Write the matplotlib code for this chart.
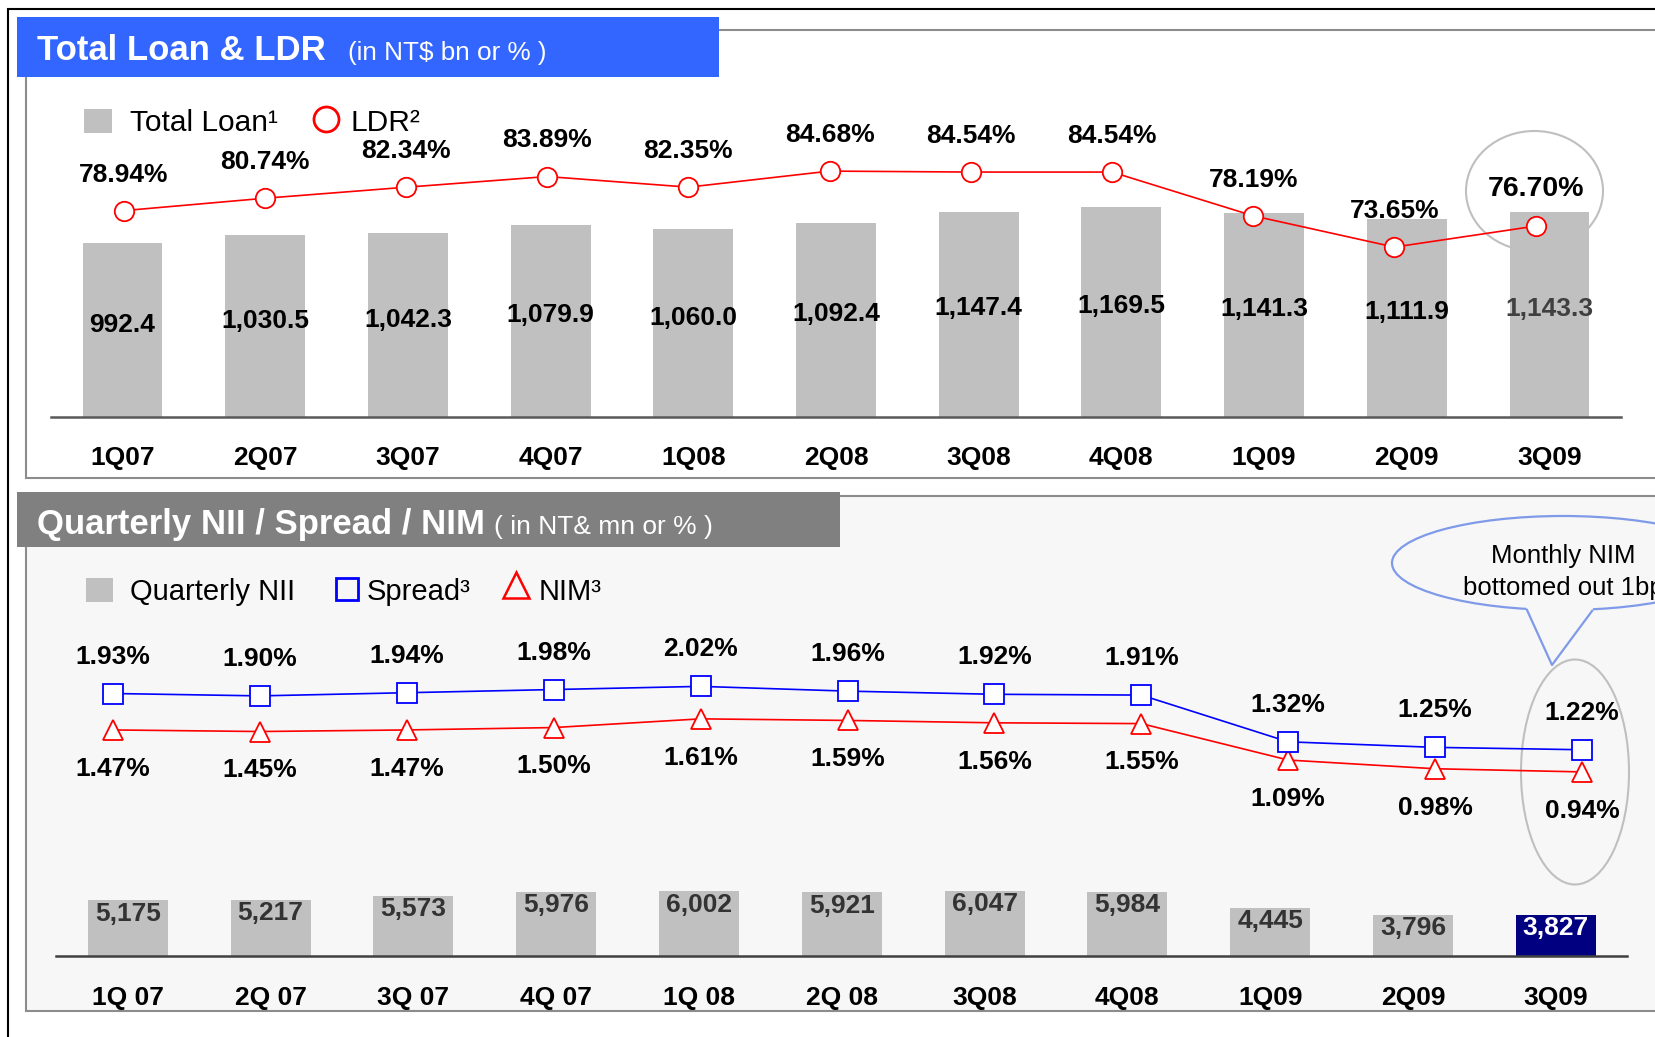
import matplotlib
matplotlib.use('Agg')
import matplotlib.pyplot as plt
from matplotlib.patches import Rectangle, Ellipse, Polygon

plt.rcParams['font.family'] = ['Liberation Sans', 'DejaVu Sans']

W, H, DPI = 1656, 1037, 100

# ---------------- data ----------------
top_categories = ['1Q07', '2Q07', '3Q07', '4Q07', '1Q08', '2Q08', '3Q08', '4Q08', '1Q09', '2Q09', '3Q09']
total_loan = [992.4, 1030.5, 1042.3, 1079.9, 1060.0, 1092.4, 1147.4, 1169.5, 1141.3, 1111.9, 1143.3]
ldr = [78.94, 80.74, 82.34, 83.89, 82.35, 84.68, 84.54, 84.54, 78.19, 73.65, 76.70]

bottom_categories = ['1Q 07', '2Q 07', '3Q 07', '4Q 07', '1Q 08', '2Q 08', '3Q08', '4Q08', '1Q09', '2Q09', '3Q09']
quarterly_nii = [5175, 5217, 5573, 5976, 6002, 5921, 6047, 5984, 4445, 3796, 3827]
spread = [1.93, 1.90, 1.94, 1.98, 2.02, 1.96, 1.92, 1.91, 1.32, 1.25, 1.22]
nim = [1.47, 1.45, 1.47, 1.50, 1.61, 1.59, 1.56, 1.55, 1.09, 0.98, 0.94]

# ---------------- style ----------------
BAR_GRAY = '#c0c0c0'
NAVY = '#000080'
PANEL_BG = '#f7f7f7'
FRAME = '#8c8c8c'
BLUE_HDR = '#3366ff'
GRAY_HDR = '#808080'
BUBBLE = '#7f9ae8'
VAL_FS = 19

fig = plt.figure(figsize=(W / DPI, H / DPI), dpi=DPI)
fig.patch.set_facecolor('white')

# background / decoration layer in pixel coordinates
bg = fig.add_axes([0, 0, 1, 1], zorder=0)
bg.set_xlim(0, W)
bg.set_ylim(H, 0)
bg.axis('off')

# outer black frame
bg.plot([8.5, 8.5, W + 5], [H + 5, 8.5, 8.5], color='black', lw=1.5, solid_joinstyle='miter')

# top panel
bg.add_patch(Rectangle((26, 30), 1700, 448, fc='white', ec=FRAME, lw=1.5))
# bottom panel
bg.add_patch(Rectangle((26, 496), 1700, 515, fc=PANEL_BG, ec=FRAME, lw=1.5))

# headers
bg.add_patch(Rectangle((17, 17), 702, 60, fc=BLUE_HDR, ec='none'))
bg.text(37, 60, 'Total Loan & LDR', color='white', fontsize=25, fontweight='bold', va='baseline', ha='left')
bg.text(348, 60, '(in NT$ bn or % )', color='white', fontsize=18.8, va='baseline', ha='left')

bg.add_patch(Rectangle((17, 492), 823, 55, fc=GRAY_HDR, ec='none'))
bg.text(37, 534, 'Quarterly NII / Spread / NIM', color='white', fontsize=25, fontweight='bold',
        va='baseline', ha='left')
bg.text(494, 534, '( in NT& mn or % )', color='white', fontsize=19, va='baseline', ha='left')

# legends
bg.add_patch(Rectangle((84.5, 109), 27.5, 24, fc=BAR_GRAY, ec='none'))
bg.text(130, 131, 'Total Loan¹', fontsize=21.5, va='baseline', ha='left')
bg.plot([326], [119], marker='o', ms=18, mfc='white', mec='red', mew=2, ls='none')
bg.text(350.5, 131, 'LDR²', fontsize=21.5, va='baseline', ha='left')

bg.add_patch(Rectangle((86.5, 578), 26.5, 24, fc=BAR_GRAY, ec='none'))
bg.text(130, 600, 'Quarterly NII', fontsize=21, va='baseline', ha='left')
bg.plot([347.5], [589], marker='s', ms=16, mfc='none', mec='blue', mew=2, ls='none')
bg.text(366.5, 600, 'Spread³', fontsize=21, va='baseline', ha='left')
bg.plot([516], [585], marker='^', ms=19, mfc='none', mec='red', mew=1.8, ls='none')
bg.text(538.5, 600, 'NIM³', fontsize=21, va='baseline', ha='left')

# highlight ellipses
bg.add_patch(Ellipse((1534.5, 191), 137, 120, fc='none', ec='#bfbfbf', lw=1.5))
bg.add_patch(Ellipse((1575, 772), 108, 225, fc='none', ec='#bfbfbf', lw=1.5))

# speech bubble
bg.add_patch(Ellipse((1563, 563), 342, 94, fc=PANEL_BG, ec=BUBBLE, lw=1.6, zorder=3))
bg.add_patch(Polygon([(1524, 600), (1527, 610), (1552, 665), (1592, 611), (1596, 600)],
                     closed=True, fc=PANEL_BG, ec='none', zorder=4))
bg.plot([1527, 1552, 1592], [610, 665, 611], color=BUBBLE, lw=1.6, zorder=5)
bg.text(1563, 556, 'Monthly NIM', fontsize=18.5, ha='center', va='center', zorder=6)
bg.text(1563, 588, 'bottomed out 1bp', fontsize=18.5, ha='center', va='center', zorder=6)


def px_axes(x0, s, top, bottom, z, n=11):
    """Axes whose category i sits at pixel x0 + i*s, spanning pixel rows top..bottom."""
    left = x0 - 0.5 * s
    width = n * s
    ax = fig.add_axes([left / W, 1 - bottom / H, width / W, (bottom - top) / H], zorder=z)
    ax.set_xlim(-0.5, n - 0.5)
    ax.patch.set_alpha(0)
    for sp in ax.spines.values():
        sp.set_visible(False)
    ax.set_xticks([])
    ax.set_yticks([])
    return ax


idx = list(range(len(top_categories)))

# ---------------- top: total loan bars ----------------
LOAN_BASE = 130
ax1 = px_axes(122.5, 142.7, 100, 417.2, z=2)
ax1.set_ylim(LOAN_BASE, 1700)
ax1.bar(idx, [v - LOAN_BASE for v in total_loan], bottom=LOAN_BASE, width=0.56, color=BAR_GRAY, zorder=2)
ax1.spines['bottom'].set_visible(True)
ax1.spines['bottom'].set_color('#595959')
ax1.spines['bottom'].set_linewidth(1.8)
for i, v in enumerate(total_loan):
    col = '#404040' if i == len(total_loan) - 1 else 'black'
    ax1.text(i, LOAN_BASE + (v - LOAN_BASE) * 0.53, f'{v:,.1f}', ha='center', va='center',
             fontsize=VAL_FS, fontweight='bold', color=col, zorder=3)
for i, c in enumerate(top_categories):
    ax1.annotate(c, xy=(i, 0), xycoords=('data', 'axes fraction'), xytext=(0, -34.5),
                 textcoords='offset points', ha='center', va='baseline',
                 fontsize=VAL_FS, fontweight='bold')

# ---------------- top: LDR line ----------------
ax2 = px_axes(123.6, 141.2, 100, 417.2, z=3)
ax2.set_ylim(48.96, 95.0)
ax2.plot(idx, ldr, color='red', lw=1.2, marker='o', ms=14, mfc='white', mec='red', mew=1.3)
for i, v in enumerate(ldr):
    last = i == len(ldr) - 1
    ax2.annotate(f'{v:.2f}%', xy=(i, v), xytext=(0, 27 if last else 26), textcoords='offset points',
                 ha='center', va='center', fontsize=20.5 if last else VAL_FS, fontweight='bold')

# ---------------- bottom: quarterly NII bars ----------------
ax3 = px_axes(127.8, 142.8, 620, 956, z=2)
ax3.set_ylim(0, 31256)
colors = [BAR_GRAY] * (len(quarterly_nii) - 1) + [NAVY]
ax3.bar(idx, quarterly_nii, width=0.56, color=colors, zorder=2)
ax3.spines['bottom'].set_visible(True)
ax3.spines['bottom'].set_color('#404040')
ax3.spines['bottom'].set_linewidth(1.8)
for i, v in enumerate(quarterly_nii):
    col = 'white' if i == len(quarterly_nii) - 1 else '#333333'
    ax3.annotate(f'{v:,}', xy=(i, v), xytext=(0, -9.5), textcoords='offset points',
                 ha='center', va='center', fontsize=VAL_FS, fontweight='bold', color=col, zorder=3)
for i, c in enumerate(bottom_categories):
    ax3.annotate(c, xy=(i, 0), xycoords=('data', 'axes fraction'), xytext=(0, -35.2),
                 textcoords='offset points', ha='center', va='baseline',
                 fontsize=VAL_FS, fontweight='bold')

# ---------------- bottom: spread & NIM lines ----------------
ax4 = px_axes(113, 146.9, 620, 956, z=3)
ax4.set_ylim(-1.384, 2.858)
ax4.plot(idx, nim, color='red', lw=1.2, marker='^', ms=15, mfc='white', mec='red', mew=1.3)
ax4.plot(idx, spread, color='blue', lw=1.2, marker='s', ms=14.5, mfc='white', mec='blue', mew=1.3)
for i, v in enumerate(spread):
    ax4.annotate(f'{v:.2f}%', xy=(i, v), xytext=(0, 26.6), textcoords='offset points',
                 ha='center', va='center', fontsize=VAL_FS, fontweight='bold')
for i, v in enumerate(nim):
    ax4.annotate(f'{v:.2f}%', xy=(i, v), xytext=(0, -28), textcoords='offset points',
                 ha='center', va='center', fontsize=VAL_FS, fontweight='bold')

fig.savefig('out.png', dpi=DPI)
